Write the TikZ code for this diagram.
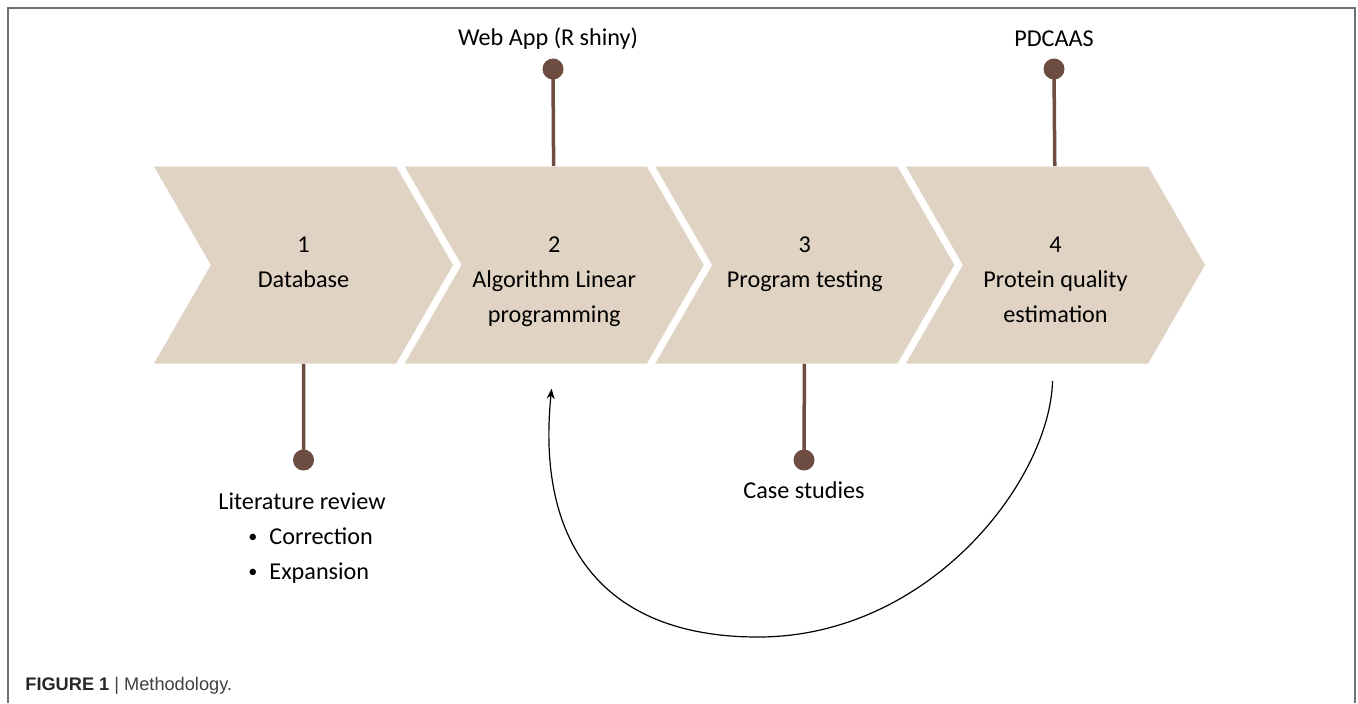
\documentclass[tikz,border=0pt]{standalone}
\usepackage{fontspec}
\setmainfont{Carlito}
\newfontfamily\capfont{Liberation Sans}
\usepackage{tikz}
\usepackage{tkz-graph}
\usetikzlibrary{shapes.symbols,arrows.meta}
\definecolor{chevfill}{HTML}{E0D3C3}
\definecolor{pinbrown}{HTML}{6D4C41}
\definecolor{framegray}{HTML}{707070}
\newcommand{\litbullet}{\hspace*{15pt}\raisebox{0.08em}{\scalebox{0.75}{•}}\hspace{6pt}}
\tikzset{
  chevron/.style={signal,signal from=west,signal to=east,signal pointer angle=120,
    fill=chevfill,minimum height=98.5pt,minimum width=149.5pt,inner sep=0pt,
    text width=92pt,align=flush center,text height=10pt,text depth=22.5pt},
  pintext/.style={inner sep=0pt}
}

\begin{document}
\begin{tikzpicture}[x=0.5pt,y=-0.5pt,font=\fontsize{12.1}{17.5}\selectfont]
            \useasboundingbox (0,0) rectangle (1358,703);
            \draw[framegray,line width=0.7pt] (8,703) -- (8,8) -- (1355,8) -- (1355,703);

            \node[chevron] (db) at (303.5,265) {1\\Database};
            \node[chevron] (alg) at (554.2,265) {2\\Algorithm Linear\\programming};
            \node[chevron] (test) at (804.8,265) {3\\Program testing};
            \node[chevron] (est) at (1055.5,265) {4\\Protein quality\\estimation};

            \GraphInit[vstyle=Classic];
            \SetVertexNormal[MinSize=10pt,FillColor=pinbrown,LineColor=pinbrown]
            \Vertex[NoLabel,x=553,y=69]{webdot};
            \Vertex[NoLabel,x=1054,y=69]{pdcdot};
            \Vertex[NoLabel,x=303.5,y=460]{litdot};
            \Vertex[NoLabel,x=804,y=460]{casedot};

            \tikzset{EdgeStyle/.append style={pinbrown,line width=1.75pt}};
            \Edge(webdot)(alg);
            \Edge(pdcdot)(est);
            \Edge(litdot)(db);
            \Edge(casedot)(test);

            \node[pintext] (webapp) at (548,39) {Web App (R shiny)};
            \node[pintext] (pdcaas) at (1054,39) {PDCAAS};
            \node[pintext] (casest) at (804,490) {Case studies};
            \node[pintext,align=left,anchor=north west] (litrev) at (218,492)
              {Literature review\\\litbullet Correction\\\litbullet Expansion};

            \draw[-{Stealth[length=5pt,width=4pt]},line width=0.6pt,shorten <=8.5pt,shorten >=12.5pt]
              (est) .. controls (1050,480) and (930,637) .. (758,637) .. controls (600,637) and (536,540) .. (alg.south);

            \node[anchor=base west,inner sep=0pt,font=\capfont\fontsize{9.1}{10}\selectfont] (caption) at (25,690)
              {\textcolor{black!85}{\textbf{FIGURE 1}} \textcolor{black!75}{| Methodology.}};
          \end{tikzpicture}
\end{document}
